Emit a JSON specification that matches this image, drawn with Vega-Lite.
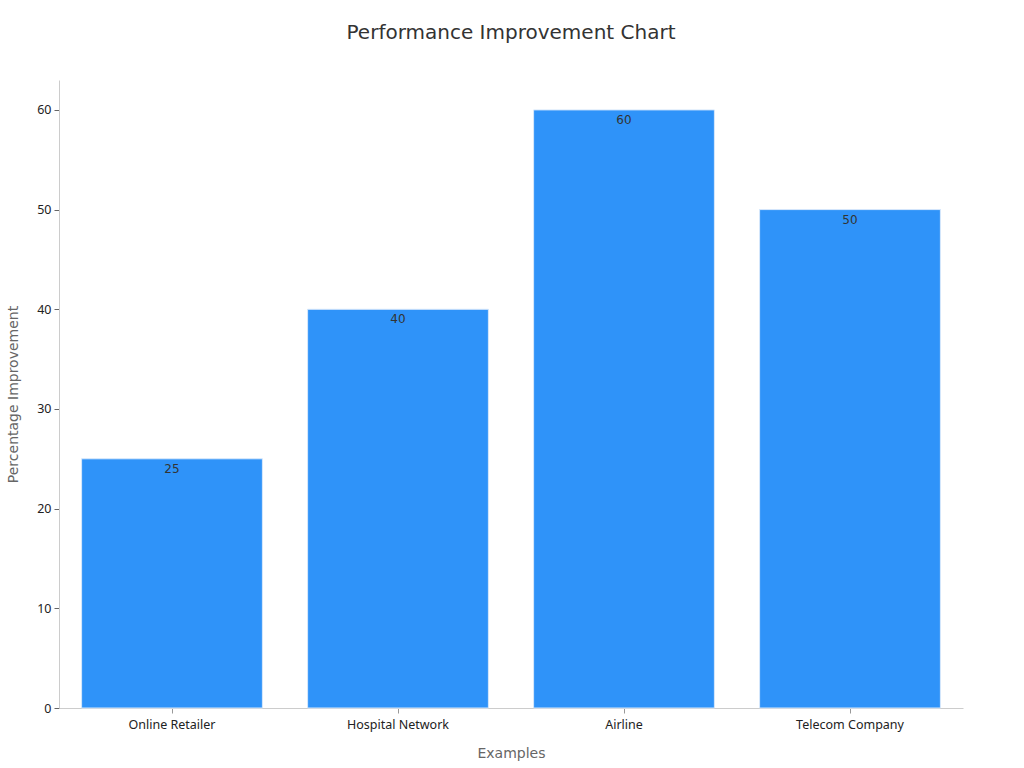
{
  "$schema": "https://vega.github.io/schema/vega-lite/v6.json",
  "width": 904,
  "height": 628,
  "autosize": "none",
  "padding": {"left": 59, "top": 80, "right": 61, "bottom": 60},
  "background": "white",
  "title": {
    "text": "Performance Improvement Chart",
    "font": "DejaVu Sans",
    "fontSize": 20,
    "fontWeight": "normal",
    "color": "#333333",
    "anchor": "middle",
    "offset": 37
  },
  "config": {"view": {"stroke": null}},
  "data": {
    "values": [
      {"example": "Online Retailer", "value": 25},
      {"example": "Hospital Network", "value": 40},
      {"example": "Airline", "value": 60},
      {"example": "Telecom Company", "value": 50}
    ]
  },
  "encoding": {
    "x": {
      "field": "example",
      "type": "nominal",
      "sort": null,
      "scale": {"paddingInner": 0.2, "paddingOuter": 0.1},
      "axis": {
        "title": "Examples",
        "titleFont": "DejaVu Sans",
        "titleFontSize": 14,
        "titleFontWeight": "normal",
        "titleColor": "#666666",
        "titlePadding": 16,
        "labelFont": "Noto Sans",
        "labelFontSize": 12.5,
        "labelColor": "#222222",
        "labelAngle": 0,
        "labelPadding": 5,
        "domainColor": "#cccccc",
        "tickColor": "#999999",
        "tickSize": 5,
        "grid": false
      }
    },
    "y": {
      "field": "value",
      "type": "quantitative",
      "scale": {"domain": [0, 63], "nice": false},
      "axis": {
        "title": "Percentage Improvement",
        "titleFont": "DejaVu Sans",
        "titleFontSize": 14,
        "titleFontWeight": "normal",
        "titleColor": "#666666",
        "titlePadding": 16,
        "labelFont": "Noto Sans",
        "labelFontSize": 12.5,
        "labelColor": "#222222",
        "labelPadding": 3,
        "values": [0, 10, 20, 30, 40, 50, 60],
        "domainColor": "#cccccc",
        "tickColor": "#666666",
        "tickSize": 5,
        "grid": false
      }
    }
  },
  "layer": [
    {
      "mark": {"type": "bar", "color": "#2f93f9", "stroke": "#d8e8fb", "strokeWidth": 1}
    },
    {
      "mark": {"type": "text", "baseline": "top", "dy": 5, "font": "DejaVu Sans", "fontSize": 12, "color": "#333333"},
      "encoding": {"text": {"field": "value", "type": "quantitative"}}
    }
  ]
}
